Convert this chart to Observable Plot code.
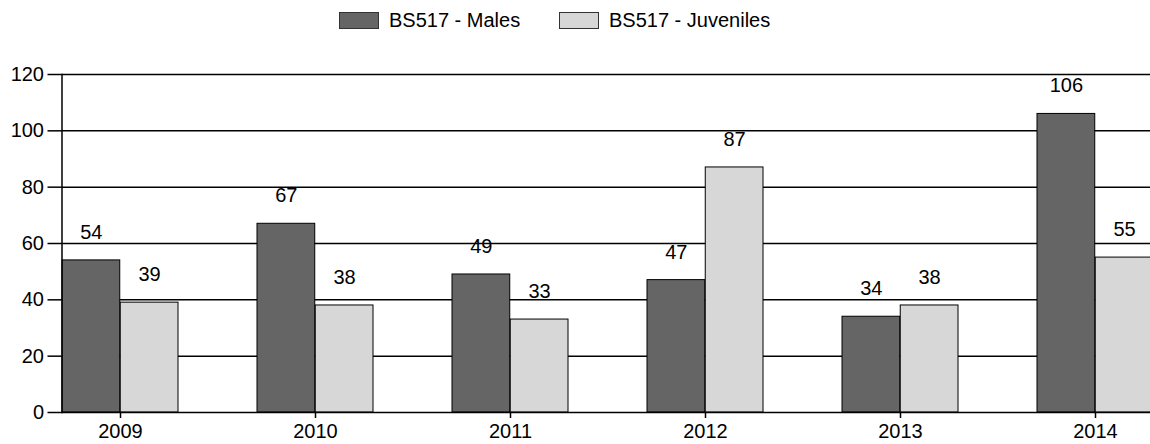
<!DOCTYPE html>
<html>
<head>
<meta charset="utf-8">
<script src="https://cdn.jsdelivr.net/npm/d3@7"></script>
<script src="https://cdn.jsdelivr.net/npm/@observablehq/plot@0.6"></script>
<style>
  html, body { margin: 0; padding: 0; background: #fff; }
  body { width: 1150px; height: 444px; overflow: hidden; font-family: "Liberation Sans", Arial, sans-serif; }
  .legend { position: relative; height: 40px; font-size: 20px; color: #000; }
  .legend .item { position: absolute; top: 0; height: 40px; display: flex; align-items: center; }
  .legend .sw { width: 40px; height: 17px; border: 1px solid #333; margin-right: 10px; box-sizing: border-box; }
  #chart svg { display: block; }
</style>
</head>
<body>
<div class="legend" id="legend"></div>
<div id="chart"></div>
<script>
// Annual counts for BS517
const years = ["2009", "2010", "2011", "2012", "2013", "2014"];
const males = [54, 67, 49, 47, 34, 106];
const juveniles = [39, 38, 33, 87, 38, 55];
const seriesNames = ["BS517 - Males", "BS517 - Juveniles"];
const seriesColors = ["#656565", "#d7d7d7"];
const yTicks = [0, 20, 40, 60, 80, 100, 120];

const rows = years.map((year, i) => ({year, males: males[i], juveniles: juveniles[i]}));

// Legend
const legend = document.getElementById("legend");
const legendLeft = [339, 559];
seriesNames.forEach((name, i) => {
  const item = document.createElement("div");
  item.className = "item";
  item.style.left = legendLeft[i] + "px";
  const sw = document.createElement("span");
  sw.className = "sw";
  sw.style.background = seriesColors[i];
  const label = document.createElement("span");
  label.textContent = name;
  item.append(sw, label);
  legend.append(item);
});

// Band layout: each year's band holds the pair of bars
const xRange = [61.7, 1154.8];
const paddingInner = 0.4035;
const step = (xRange[1] - xRange[0]) / (years.length - paddingInner);
const bandwidth = step * (1 - paddingInner);
const half = bandwidth / 2;

const chart = Plot.plot({
  width: 1150,
  height: 404,
  marginTop: 34,
  marginBottom: 32,
  marginLeft: 61.5,
  marginRight: 0,
  style: {fontFamily: "'Liberation Sans', Arial, sans-serif", fontSize: "20px", color: "#000", background: "#fff"},
  x: {type: "band", domain: years, range: xRange, paddingInner, paddingOuter: 0, align: 0, label: null},
  y: {domain: [0, 120], label: null},
  marks: [
    Plot.ruleY(yTicks.filter(d => d > 0), {stroke: "#000", strokeWidth: 1.5}),
    Plot.barY(rows, {x: "year", y: "males", fill: seriesColors[0], stroke: "#000", strokeWidth: 1, insetLeft: 0, insetRight: half}),
    Plot.barY(rows, {x: "year", y: "juveniles", fill: seriesColors[1], stroke: "#000", strokeWidth: 1, insetLeft: half, insetRight: 0}),
    Plot.text(rows, {x: "year", y: "males", text: d => String(d.males), dx: -half / 2, dy: -28, fill: "#000"}),
    Plot.text(rows, {x: "year", y: "juveniles", text: d => String(d.juveniles), dx: half / 2, dy: -28, fill: "#000"}),
    Plot.ruleY([0], {stroke: "#000", strokeWidth: 1.5}),
    Plot.frame({anchor: "left", stroke: "#000", strokeWidth: 1.5}),
    Plot.axisY({ticks: yTicks, tickSize: 14, tickPadding: 4, strokeWidth: 1.5, label: null}),
    Plot.axisX({tickSize: 6, tickPadding: 5, strokeWidth: 1.5, label: null})
  ]
});
document.getElementById("chart").append(chart);
</script>
</body>
</html>
